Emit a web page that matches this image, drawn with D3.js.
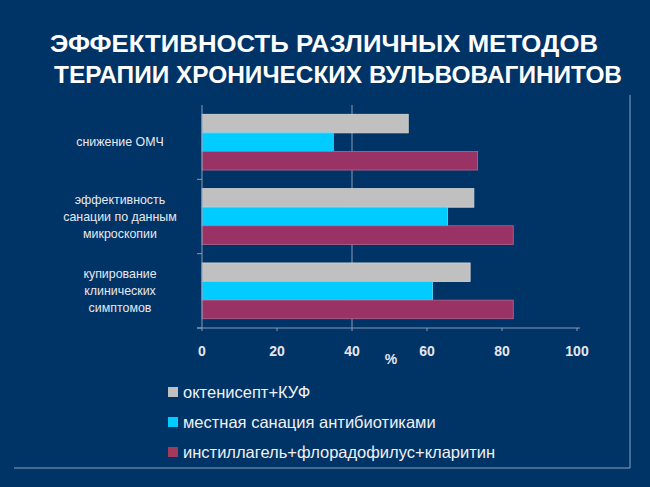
<!DOCTYPE html>
<html>
<head>
<meta charset="utf-8">
<script src="https://cdn.jsdelivr.net/npm/d3@7"></script>
<style>
  body { margin: 0; background: #003366; }
  svg { display: block; }
</style>
</head>
<body>
<svg id="chart" width="650" height="487"></svg>
<script>
// data
const categories = [
    ["снижение ОМЧ"],
    ["эффективность", "санации по данным", "микроскопии"],
    ["купирование", "клинических", "симптомов"]
];
const seriesNames = ["октенисепт+КУФ", "местная санация антибиотиками", "инстиллагель+флорадофилус+кларитин"];
const octenisept = [55, 72.5, 71.5];
const antibiotics = [35, 65.5, 61.5];
const instillagel = [73.5, 83, 83];
const xTicks = [0, 20, 40, 60, 80, 100];

const colors = ["#c0c0c0", "#00ccff", "#993366"];
const strokes = ["#d8d8d8", "#66ddff", "#b8668a"];
const legendColors = ["#c0c0c0", "#00ccff", "#a33a5c"];

const series = [octenisept, antibiotics, instillagel];

let dimensions = {
    width: 650, height: 487,
    margin: { top: 105, bottom: 157, right: 71, left: 202 }
};

var svg = d3.select("#chart");

svg.append("rect")
    .attr("width", dimensions.width)
    .attr("height", dimensions.height)
    .attr("fill", "#003366");

// Title
var title = svg.append("text")
    .attr("text-anchor", "middle")
    .attr("font-family", "Liberation Sans, Arial, sans-serif")
    .attr("font-weight", "bold")
    .attr("font-size", "24.5px")
    .attr("fill", "#ffffff");
title.append("tspan").attr("x", 324).attr("y", 52)
    .attr("textLength", 548).attr("lengthAdjust", "spacingAndGlyphs")
    .text("ЭФФЕКТИВНОСТЬ РАЗЛИЧНЫХ МЕТОДОВ");
title.append("tspan").attr("x", 338).attr("y", 83)
    .attr("textLength", 568).attr("lengthAdjust", "spacingAndGlyphs")
    .text("ТЕРАПИИ ХРОНИЧЕСКИХ ВУЛЬВОВАГИНИТОВ");

// frame lines
svg.append("line")
    .attr("x1", 630).attr("x2", 630).attr("y1", 95).attr("y2", 468)
    .attr("stroke", "#8ea2c0").attr("stroke-width", 1);
svg.append("line")
    .attr("x1", 14).attr("x2", 630).attr("y1", 468).attr("y2", 468)
    .attr("stroke", "#8ea2c0").attr("stroke-width", 1);

// scales
var x = d3.scaleLinear()
    .domain([0, 100])
    .range([dimensions.margin.left, dimensions.width - dimensions.margin.right - 2]);

var y0 = d3.scaleBand()
    .domain(d3.range(categories.length))
    .range([dimensions.margin.top, dimensions.height - dimensions.margin.bottom - 2])
    .paddingInner(0.25)
    .paddingOuter(0.125);

var y1 = d3.scaleBand()
    .domain(d3.range(series.length))
    .range([0, y0.bandwidth()]);

const plotTop = dimensions.margin.top;
const plotBottom = dimensions.height - dimensions.margin.bottom - 2;

// gridline at 40
svg.append("line")
    .attr("x1", x(40)).attr("x2", x(40))
    .attr("y1", plotTop).attr("y2", plotBottom)
    .attr("stroke", "#8a9bb5").attr("stroke-width", 1);

// bars
var groups = svg.selectAll(".cat")
    .data(categories)
    .join("g")
    .attr("class", "cat")
    .attr("transform", (d, i) => "translate(0," + y0(i) + ")");

groups.selectAll("rect")
    .data((d, i) => series.map((s, j) => ({ j: j, v: s[i] })))
    .join("rect")
    .attr("x", x(0))
    .attr("y", d => y1(d.j))
    .attr("width", d => x(d.v) - x(0))
    .attr("height", y1.bandwidth())
    .attr("fill", d => colors[d.j])
    .attr("stroke", d => strokes[d.j])
    .attr("stroke-width", 0.8);

// Y axis
svg.append("line")
    .attr("x1", x(0)).attr("x2", x(0))
    .attr("y1", plotTop).attr("y2", plotBottom)
    .attr("stroke", "#8a9bb5");
const bandStep = y0.step();
for (let i = 1; i <= categories.length; i++) {
    svg.append("line")
        .attr("x1", x(0) - 5).attr("x2", x(0))
        .attr("y1", plotTop + bandStep * i).attr("y2", plotTop + bandStep * i)
        .attr("stroke", "#8a9bb5");
}

// category labels
svg.selectAll(".catlabel")
    .data(categories)
    .join("text")
    .attr("class", "catlabel")
    .attr("text-anchor", "middle")
    .attr("font-family", "Liberation Sans, Arial, sans-serif")
    .attr("font-size", "12.4px")
    .attr("fill", "#e8e8ee")
    .each(function (d, i) {
        let cy = y0(i) + y0.bandwidth() / 2;
        let t = d3.select(this);
        d.forEach((line, k) => {
            t.append("tspan")
                .attr("x", 120)
                .attr("y", cy + (k - (d.length - 1) / 2) * 17 + 4)
                .text(line);
        });
    });

// X axis
svg.append("line")
    .attr("x1", x(0) - 5).attr("x2", x(100) + 3)
    .attr("y1", plotBottom).attr("y2", plotBottom)
    .attr("stroke", "#8a9bb5");
svg.selectAll(".xtick")
    .data(xTicks)
    .join("line")
    .attr("class", "xtick")
    .attr("x1", d => x(d)).attr("x2", d => x(d))
    .attr("y1", plotBottom).attr("y2", plotBottom + 3)
    .attr("stroke", "#8a9bb5");
svg.selectAll(".xlabel")
    .data(xTicks)
    .join("text")
    .attr("class", "xlabel")
    .attr("text-anchor", "middle")
    .attr("font-family", "Liberation Sans, Arial, sans-serif")
    .attr("font-weight", "bold")
    .attr("font-size", "14px")
    .attr("fill", "#e6e6ee")
    .attr("x", d => x(d))
    .attr("y", 356)
    .text(d => d);

svg.append("text")
    .attr("text-anchor", "middle")
    .attr("font-family", "Liberation Sans, Arial, sans-serif")
    .attr("font-weight", "bold")
    .attr("font-size", "14px")
    .attr("fill", "#e6e6ee")
    .attr("x", 391)
    .attr("y", 364)
    .text("%");

// legend
var legend = svg.selectAll(".legend")
    .data(seriesNames)
    .join("g")
    .attr("class", "legend")
    .attr("transform", (d, i) => "translate(168," + (392 + i * 30) + ")");
legend.append("rect")
    .attr("x", 0).attr("y", -5)
    .attr("width", 10).attr("height", 10)
    .attr("fill", (d, i) => legendColors[i]);
legend.append("text")
    .attr("x", 15).attr("y", 6)
    .attr("font-family", "Liberation Sans, Arial, sans-serif")
    .attr("font-size", "16.5px")
    .attr("fill", "#f0f0f4")
    .text(d => d);
</script>
</body>
</html>
